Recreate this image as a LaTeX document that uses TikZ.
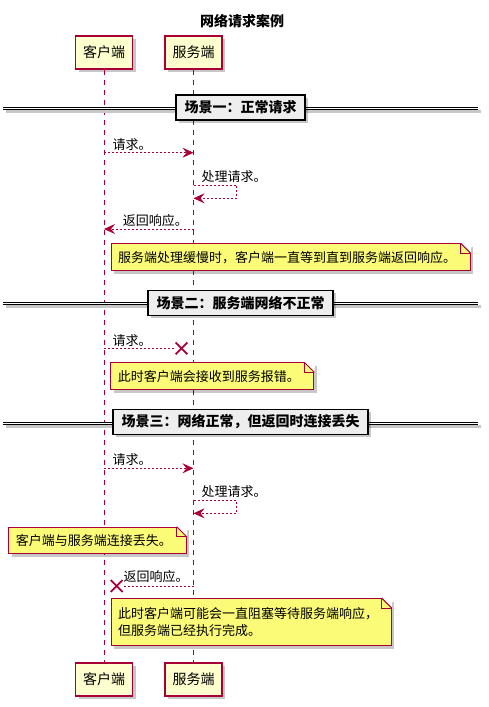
\documentclass[tikz,border=0pt]{standalone}
\usepackage{fontspec}
\setmainfont{Noto Sans CJK SC}
\usepackage{tikz}
\usetikzlibrary{positioning,arrows.meta,shapes.misc,shadows}
\definecolor{crimson}{HTML}{A80036}
\definecolor{partfill}{HTML}{FEFECE}
\definecolor{notefill}{HTML}{FBFB77}
\definecolor{divfill}{HTML}{EEEEEE}

\begin{document}
\begin{tikzpicture}[
  x=1pt, y=-1pt,
  shade/.style={drop shadow={shadow xshift=3pt, shadow yshift=-3pt, fill=black, opacity=0.22}},
  part/.style={draw=crimson, fill=partfill, line width=1.2pt, minimum width=57pt, minimum height=33pt, inner sep=0pt, font=\fontsize{14}{16}\selectfont, shade},
  life/.style={draw=crimson, line width=1pt, dash pattern=on 5pt off 5pt},
  msg/.style={draw=crimson, line width=1pt, dash pattern=on 2pt off 2pt, -{Stealth[length=11pt, width=10pt, inset=4pt]}},
  lostmsg/.style={draw=crimson, line width=1pt, dash pattern=on 2pt off 2pt},
  lost/.style={cross out, draw=crimson, line width=1.8pt, minimum size=10pt, inner sep=0pt},
  lbl/.style={anchor=base west, inner sep=0pt, font=\fontsize{13}{15}\selectfont},
  note/.style={draw=crimson, fill=notefill, line width=1pt, anchor=north west, align=left, inner xsep=7pt, inner ysep=0pt, font=\fontsize{13}{17}\selectfont, shade},
  divbox/.style={draw=black, fill=divfill, line width=1.5pt, minimum height=25pt, inner xsep=8.5pt, inner ysep=0pt, font=\fontsize{14}{16}\selectfont\bfseries, shade},
  divline/.style={draw=black, double=white, double distance=1.2pt, line width=1pt},
  divshade/.style={draw=black!22, line width=3.2pt, transform canvas={xshift=3pt, yshift=-3pt}},
]
  \useasboundingbox (0,0) rectangle (489,707);

  % title and participants
  \node[font=\fontsize{14}{16}\selectfont\bfseries] (title) at (242,21) {网络请求案例};
  \node[part] (cltop) at (104,52.5) {客户端};
  \node[part] (svtop) at (193.5,52.5) {服务端};
  \node[part] (clbot) at (104,679.5) {客户端};
  \node[part] (svbot) at (193.5,679.5) {服务端};
  \draw[life] (cltop) -- (clbot);
  \draw[life] (svtop) -- (svbot);

  % scene 1
  \coordinate (d1l) at (3,108.7);
  \coordinate (d1r) at (478,108.7);
  \draw[divshade] (d1l) -- (d1r);
  \draw[divline] (d1l) -- (d1r);
  \node[divbox] (scene1) at (240.5,107.5) {场景一：正常请求};

  \coordinate (req1a) at (104,152.7);
  \coordinate (req1b) at (193.5,152.7);
  \draw[msg] (req1a) -- (req1b);
  \node[lbl] (req1t) at (112.5,149) {请求。};

  \coordinate (proc1a) at (193.5,185);
  \coordinate (proc1b) at (193.5,198.3);
  \draw[msg] (proc1a) -- ++(43,0) |- (proc1b);
  \node[lbl] (proc1t) at (201.5,181.6) {处理请求。};

  \coordinate (resp1a) at (193.5,229);
  \coordinate (resp1b) at (104,229);
  \draw[msg] (resp1a) -- (resp1b);
  \node[lbl] (resp1t) at (122.7,225.6) {返回响应。};

  \node[note, text width=345pt, minimum height=27pt] (note1) at (110.7,243.3) {服务端处理缓慢时，客户端一直等到直到服务端返回响应。};

  % scene 2
  \coordinate (d2l) at (3,303.5);
  \coordinate (d2r) at (478,303.5);
  \draw[divshade] (d2l) -- (d2r);
  \draw[divline] (d2l) -- (d2r);
  \node[divbox] (scene2) at (240.5,302.8) {场景二：服务端网络不正常};

  \coordinate (req2a) at (104,348.3);
  \node[lost] (x1) at (181.5,348.3) {};
  \draw[lostmsg] (req2a) -- (x1);
  \node[lbl] (req2t) at (112.5,345.6) {请求。};

  \node[note, text width=189pt, minimum height=27pt] (note2) at (110.3,362.3) {此时客户端会接收到服务报错。};

  % scene 3
  \coordinate (d3l) at (3,423.3);
  \coordinate (d3r) at (478,423.3);
  \draw[divshade] (d3l) -- (d3r);
  \draw[divline] (d3l) -- (d3r);
  \node[divbox] (scene3) at (240.5,421.8) {场景三：网络正常，但返回时连接丢失};

  \coordinate (req3a) at (104,468.3);
  \coordinate (req3b) at (193.5,468.3);
  \draw[msg] (req3a) -- (req3b);
  \node[lbl] (req3t) at (112.5,464.2) {请求。};

  \coordinate (proc3a) at (193.5,500.7);
  \coordinate (proc3b) at (193.5,513.3);
  \draw[msg] (proc3a) -- ++(43,0) |- (proc3b);
  \node[lbl] (proc3t) at (201.5,496.6) {处理请求。};

  \node[note, text width=163.4pt, minimum height=26.7pt] (note3) at (8.3,526.7) {客户端与服务端连接丢失。};

  \coordinate (resp3a) at (193.5,586);
  \node[lost] (x2) at (116.7,586) {};
  \draw[lostmsg] (resp3a) -- (x2);
  \node[lbl] (resp3t) at (123.3,581.6) {返回响应。};

  \node[note, text width=266pt, minimum height=47pt] (note4) at (110.7,598) {此时客户端可能会一直阻塞等待服务端响应，\\但服务端已经执行完成。};

  % folded corners of the notes
  \foreach \n in {note1,note2,note3,note4} {
    \fill[white] ([xshift=-10pt]\n.north east) -- ([xshift=1pt,yshift=1pt]\n.north east) -- ([yshift=-10pt]\n.north east) -- cycle;
    \draw[crimson, line width=1pt] ([xshift=-10pt]\n.north east) -- ++(0,10) -- ++(10,0);
    \draw[crimson, line width=1pt] ([xshift=-10pt]\n.north east) -- ([yshift=-10pt]\n.north east);
  }
\end{tikzpicture}
\end{document}
